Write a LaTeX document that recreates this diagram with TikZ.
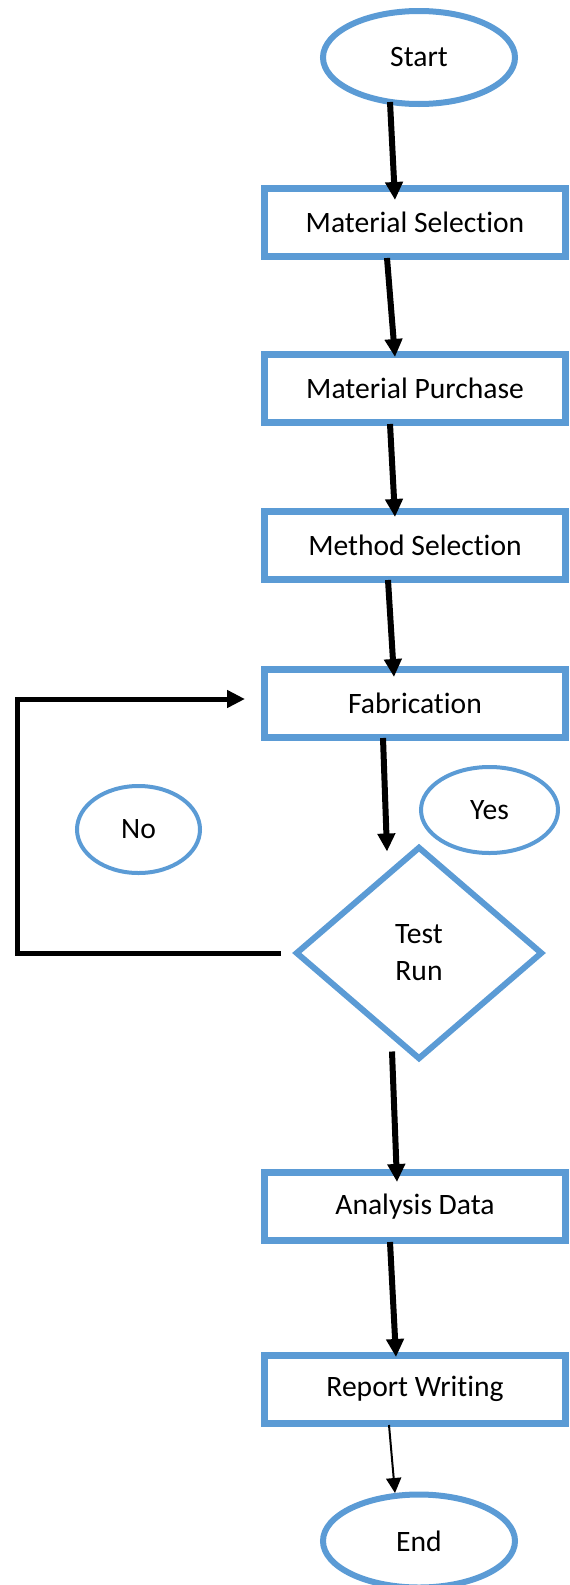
\documentclass[tikz,border=0pt]{standalone}
\usepackage{fontspec}
\setmainfont{Carlito}[Ligatures={NoCommon,NoContextual}]
\usetikzlibrary{arrows.meta,shapes.geometric,positioning}
\definecolor{boxblue}{HTML}{5B9BD5}

\begin{document}
\begin{tikzpicture}[>={Triangle[length=9pt,width=8.5pt]},node distance=82.5pt,
	font=\fontsize{14.8}{18.5}\selectfont,
	process/.style={shape=rectangle,draw=boxblue,line width=3.5pt,minimum width=150.5pt,minimum height=34pt,inner sep=0pt},
	terminal/.style={shape=ellipse,draw=boxblue,line width=3pt,minimum width=96pt,minimum height=46.5pt,inner sep=0pt},
	answer/.style={shape=ellipse,draw=boxblue,line width=2pt,inner sep=0pt},
	decision/.style={shape=diamond,draw=boxblue,line width=3pt,minimum width=123.5pt,minimum height=106.5pt,inner sep=0pt,align=center},
	flow/.style={->,line width=3pt},
	thinflow/.style={-{Triangle[length=7.5pt,width=7.5pt]},line width=1pt}]
	\useasboundingbox (0,0) rectangle (284.5pt,-792.5pt);
					\node (start) [terminal] at (209.5pt,-28.75pt) {Start};
					\node (select) [process] [below of = start, xshift=-2pt] {Material Selection};
					\node (purchase) [process] [below of = select, node distance=82.75pt] {Material Purchase};
					\node (method) [process] [below of = purchase, node distance=78.5pt] {Method Selection};
					\node (fab) [process] [below of = method, node distance=79pt] {Fabrication};
					\node (yes) [answer, minimum width=68.5pt, minimum height=43pt] [below of = fab, node distance=53.5pt, xshift=37.25pt] {Yes};
					\node (no) [answer, minimum width=61.5pt, minimum height=43.5pt] [below of = fab, node distance=63.25pt, xshift=-138.25pt] {No};
					\node (test) [decision] [below of = fab, node distance=125pt, xshift=2pt] {Test\\Run};
					\node (analysis) [process] [below of = test, node distance=126.75pt, xshift=-2pt] {Analysis Data};
					\node (report) [process] [below of = analysis, node distance=91.25pt] {Report Writing};
					\node (end) [terminal] [below of = report, node distance=76pt, xshift=2pt] {End};

					\path[flow] ([xshift=-14.5pt,yshift=2.5pt]start.south) edge ([xshift=-10pt,yshift=-7.5pt]select.north);
					\path[flow] ([xshift=-14pt,yshift=1pt]select.south) edge ([xshift=-10pt,yshift=-3.25pt]purchase.north);
					\path[flow] ([xshift=-12.5pt,yshift=0.75pt]purchase.south) edge ([xshift=-10pt,yshift=-4.75pt]method.north);
					\path[flow] ([xshift=-13.5pt,yshift=1.25pt]method.south) edge ([xshift=-10.5pt,yshift=-5.75pt]fab.north);
					\path[flow] ([xshift=-16pt,yshift=1.25pt]fab.south) edge ([xshift=-16pt,yshift=-4pt]test.north);
					\path[flow] ([xshift=-13.5pt,yshift=5.5pt]test.south) edge ([xshift=-9pt,yshift=-6.5pt]analysis.north);
					\path[flow] ([xshift=-12.5pt,yshift=1pt]analysis.south) edge ([xshift=-9.5pt,yshift=-2.75pt]report.north);
					\path[thinflow] ([xshift=-13pt,yshift=0.75pt]report.south) edge ([xshift=-12pt,yshift=-0.75pt]end.north);
					\draw[->,line width=2.5pt] ([xshift=-6pt]test.west) -- ++(-131.75pt,0) |- ([xshift=-8pt,yshift=2pt]fab.west);
\end{tikzpicture}
\end{document}
